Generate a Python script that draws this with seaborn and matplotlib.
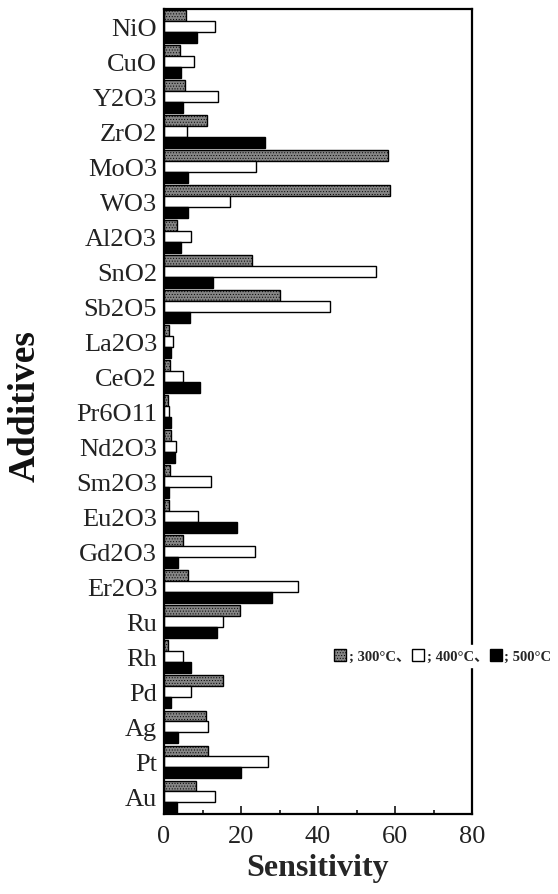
import matplotlib
matplotlib.use("Agg")
import matplotlib.pyplot as plt
from matplotlib.patches import Patch
from matplotlib.ticker import MultipleLocator
import seaborn as sns
import pandas as pd

additives = ["NiO", "CuO", "Y2O3", "ZrO2", "MoO3", "WO3", "Al2O3", "SnO2",
             "Sb2O5", "La2O3", "CeO2", "Pr6O11", "Nd2O3", "Sm2O3", "Eu2O3",
             "Gd2O3", "Er2O3", "Ru", "Rh", "Pd", "Ag", "Pt", "Au"]
s300 = [5.7, 4.2, 5.4, 11.2, 58.1, 58.6, 3.3, 22.8, 30.2, 1.2, 1.6, 1.1, 1.7,
        1.6, 1.3, 4.8, 6.3, 19.7, 1.0, 15.4, 10.9, 11.5, 8.3]
s400 = [13.2, 7.9, 13.9, 5.9, 24.0, 17.0, 7.0, 55.1, 43.0, 2.4, 4.8, 1.2, 3.0,
        12.2, 8.7, 23.5, 34.8, 15.4, 4.8, 7.0, 11.3, 27.0, 13.3]
s500 = [8.5, 4.4, 5.0, 26.1, 6.2, 6.2, 4.4, 12.6, 6.7, 1.9, 9.3, 1.9, 2.9,
        1.3, 18.9, 3.5, 28.1, 13.7, 6.9, 1.8, 3.5, 20.0, 3.3]
temps = ["300°C", "400°C", "500°C"]
x_ticks = [0, 20, 40, 60, 80]

sns.set_theme(style="white")
plt.rcParams["font.family"] = ["Liberation Serif", "Noto Sans CJK JP"]
plt.rcParams["hatch.linewidth"] = 0.4

df = pd.DataFrame({
    "Additive": additives * 3,
    "Temperature": [temps[0]] * len(additives) + [temps[1]] * len(additives)
                   + [temps[2]] * len(additives),
    "Sensitivity": s300 + s400 + s500,
})

fig = plt.figure(figsize=(5.58, 8.95), dpi=100)
ax = fig.add_axes([0.294, 0.089, 0.552, 0.900])

grey = "#858585"
face = {"300°C": grey, "400°C": "white", "500°C": "black"}
sns.barplot(data=df, y="Additive", x="Sensitivity", hue="Temperature",
            hue_order=temps, order=additives, orient="h", palette=face,
            width=0.93, gap=0, edgecolor="black", linewidth=1.0,
            errorbar=None, legend=False, ax=ax)

# dotted texture on the 300 °C bars
for bar in ax.containers[0]:
    bar.set_hatch("......")

ax.set_xlim(0, 80)
ax.set_ylim(len(additives) - 0.5, -0.5)
ax.xaxis.set_major_locator(MultipleLocator(20))
ax.xaxis.set_minor_locator(MultipleLocator(10))
ax.set_xticks(x_ticks)
ax.tick_params(axis="x", which="major", direction="in", length=6, width=1.3,
               labelsize=19, pad=8, bottom=True)
ax.tick_params(axis="x", which="minor", direction="in", length=3, width=1.3,
               bottom=True)
ax.tick_params(axis="y", length=0, labelsize=19, pad=5)
for lab in ax.get_xticklabels() + ax.get_yticklabels():
    lab.set_color("#222222")

for sp in ax.spines.values():
    sp.set_visible(True)
    sp.set_color("black")
    sp.set_linewidth(1.6)

ax.set_xlabel("Sensitivity", fontsize=23, fontweight="bold", labelpad=4)
ax.set_ylabel("")
fig.text(25 / 558, 1 - 406 / 895, "Additives", rotation=90, ha="center",
         va="center", fontsize=27, fontweight="bold", color="#111111")

handles = [Patch(facecolor=grey, edgecolor="black", hatch="......"),
           Patch(facecolor="white", edgecolor="black"),
           Patch(facecolor="black", edgecolor="black")]
labels = ["; 300°C、", "; 400°C、", "; 500°C"]
fig.legend(handles, labels, loc="center", bbox_to_anchor=(443 / 558, 1 - 657 / 895),
           ncol=3, frameon=True, framealpha=1, edgecolor="white",
           facecolor="white", handlelength=0.8, handleheight=0.9,
           handletextpad=0.2, columnspacing=0.1, borderpad=0.3,
           prop={"family": ["Liberation Serif", "Noto Sans CJK JP"],
                 "weight": "bold", "size": 10.5})

fig.savefig("out.png", dpi=100)
